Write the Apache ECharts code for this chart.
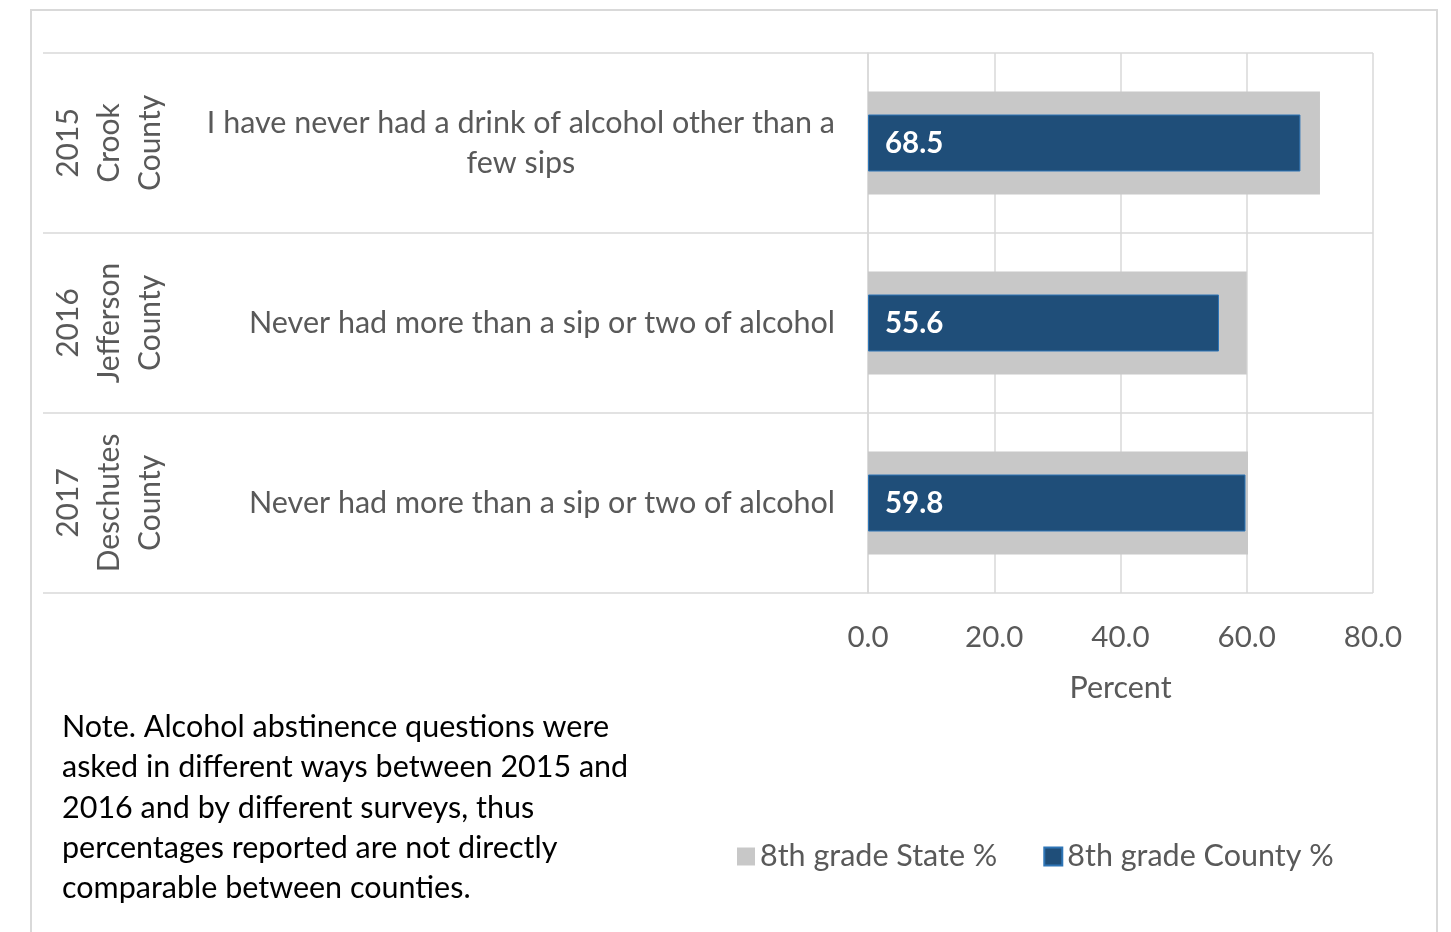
<!DOCTYPE html>
<html>
<head>
<meta charset="utf-8">
<script src="https://cdn.jsdelivr.net/npm/echarts@6/dist/echarts.min.js"></script>
<style>
html,body{margin:0;padding:0;background:#fff;}
#chart{width:1451px;height:932px;}
</style>
</head>
<body>
<div id="chart"></div>
<script>
// ---- data ----
const groups = ['2015\nCrook\nCounty', '2016\nJefferson\nCounty', '2017\nDeschutes\nCounty'];
const questions = [
  'I have never had a drink of alcohol other than a\nfew sips',
  'Never had more than a sip or two of alcohol',
  'Never had more than a sip or two of alcohol'
];
const stateValues = [71.6, 60.0, 60.2];
const countyValues = [68.5, 55.6, 59.8];
const xTicks = [0, 20, 40, 60, 80];
const seriesNames = ['8th grade State %', '8th grade County %'];
const noteLines = [
  'Note. Alcohol abstinence questions were',
  'asked in different ways between 2015 and',
  '2016 and by different surveys, thus',
  'percentages reported are not directly',
  'comparable between counties.'
];

const FONT = 'Lato';
const GRID = '#d9d9d9';
const TXT = '#595959';
const FS = 30.5;

const chart = echarts.init(document.getElementById('chart'));
chart.setOption({
  animation: false,
  textStyle: { fontFamily: FONT },
  grid: { left: 868, right: 78, top: 53, bottom: 339 },
  legend: {
    data: seriesNames,
    left: 732, top: 836,
    icon: 'rect', itemWidth: 18, itemHeight: 18, itemGap: 46,
    textStyle: { fontSize: FS, color: TXT, fontFamily: FONT }
  },
  xAxis: {
    type: 'value', min: xTicks[0], max: xTicks[xTicks.length - 1], interval: 20,
    name: 'Percent', nameLocation: 'middle', nameGap: 80,
    nameTextStyle: { fontSize: FS, color: TXT },
    axisLine: { show: false }, axisTick: { show: false },
    axisLabel: { fontSize: 29.5, color: TXT, margin: 29, formatter: v => v.toFixed(1) },
    splitLine: { show: true, lineStyle: { color: GRID, width: 1.5 } }
  },
  yAxis: [
    {
      type: 'category', data: questions, inverse: true,
      axisLine: { show: true, lineStyle: { color: GRID, width: 1.5 } },
      axisTick: { show: true, length: 825, lineStyle: { color: GRID, width: 1.5 } },
      splitLine: { show: true, lineStyle: { color: GRID, width: 1.5 } },
      axisLabel: {
        interval: 0, margin: 33, color: TXT, fontSize: FS, lineHeight: 40, align: 'right',
        formatter: v => v.split('\n').map(l => '{q|' + l + '}').join('\n'),
        rich: { q: { align: 'center', fontSize: FS, lineHeight: 40, color: TXT, fontFamily: FONT } }
      }
    },
    {
      type: 'category', data: groups, inverse: true, position: 'left',
      axisLine: { show: false }, axisTick: { show: false }, splitLine: { show: false },
      axisLabel: { interval: 0, hideOverlap: false, rotate: 90, margin: 697, color: TXT, fontSize: 30, lineHeight: 41, align: 'center' }
    }
  ],
  series: [
    {
      name: seriesNames[0], type: 'bar', data: stateValues, barWidth: 103, yAxisIndex: 0,
      itemStyle: { color: '#c8c8c8' }, z: 1
    },
    {
      name: seriesNames[1], type: 'bar', data: countyValues, barWidth: 57, yAxisIndex: 1,
      itemStyle: { color: '#1f4e79', borderColor: '#2e75b6', borderWidth: 1 }, z: 2,
      label: {
        show: true, position: 'insideLeft', distance: 17, color: '#fff',
        fontSize: 29.5, fontWeight: 'bold', formatter: p => p.value.toFixed(1)
      }
    }
  ],
  graphic: [
    { type: 'rect', shape: { x: 31, y: 10, width: 1406, height: 960 }, style: { fill: 'none', stroke: GRID, lineWidth: 2 }, silent: true },
    {
      type: 'text', left: 62, top: 707,
      style: { text: noteLines.join('\n'), fontSize: FS, lineHeight: 40.3, fill: '#000', fontFamily: FONT }
    }
  ]
});
</script>
</body>
</html>
